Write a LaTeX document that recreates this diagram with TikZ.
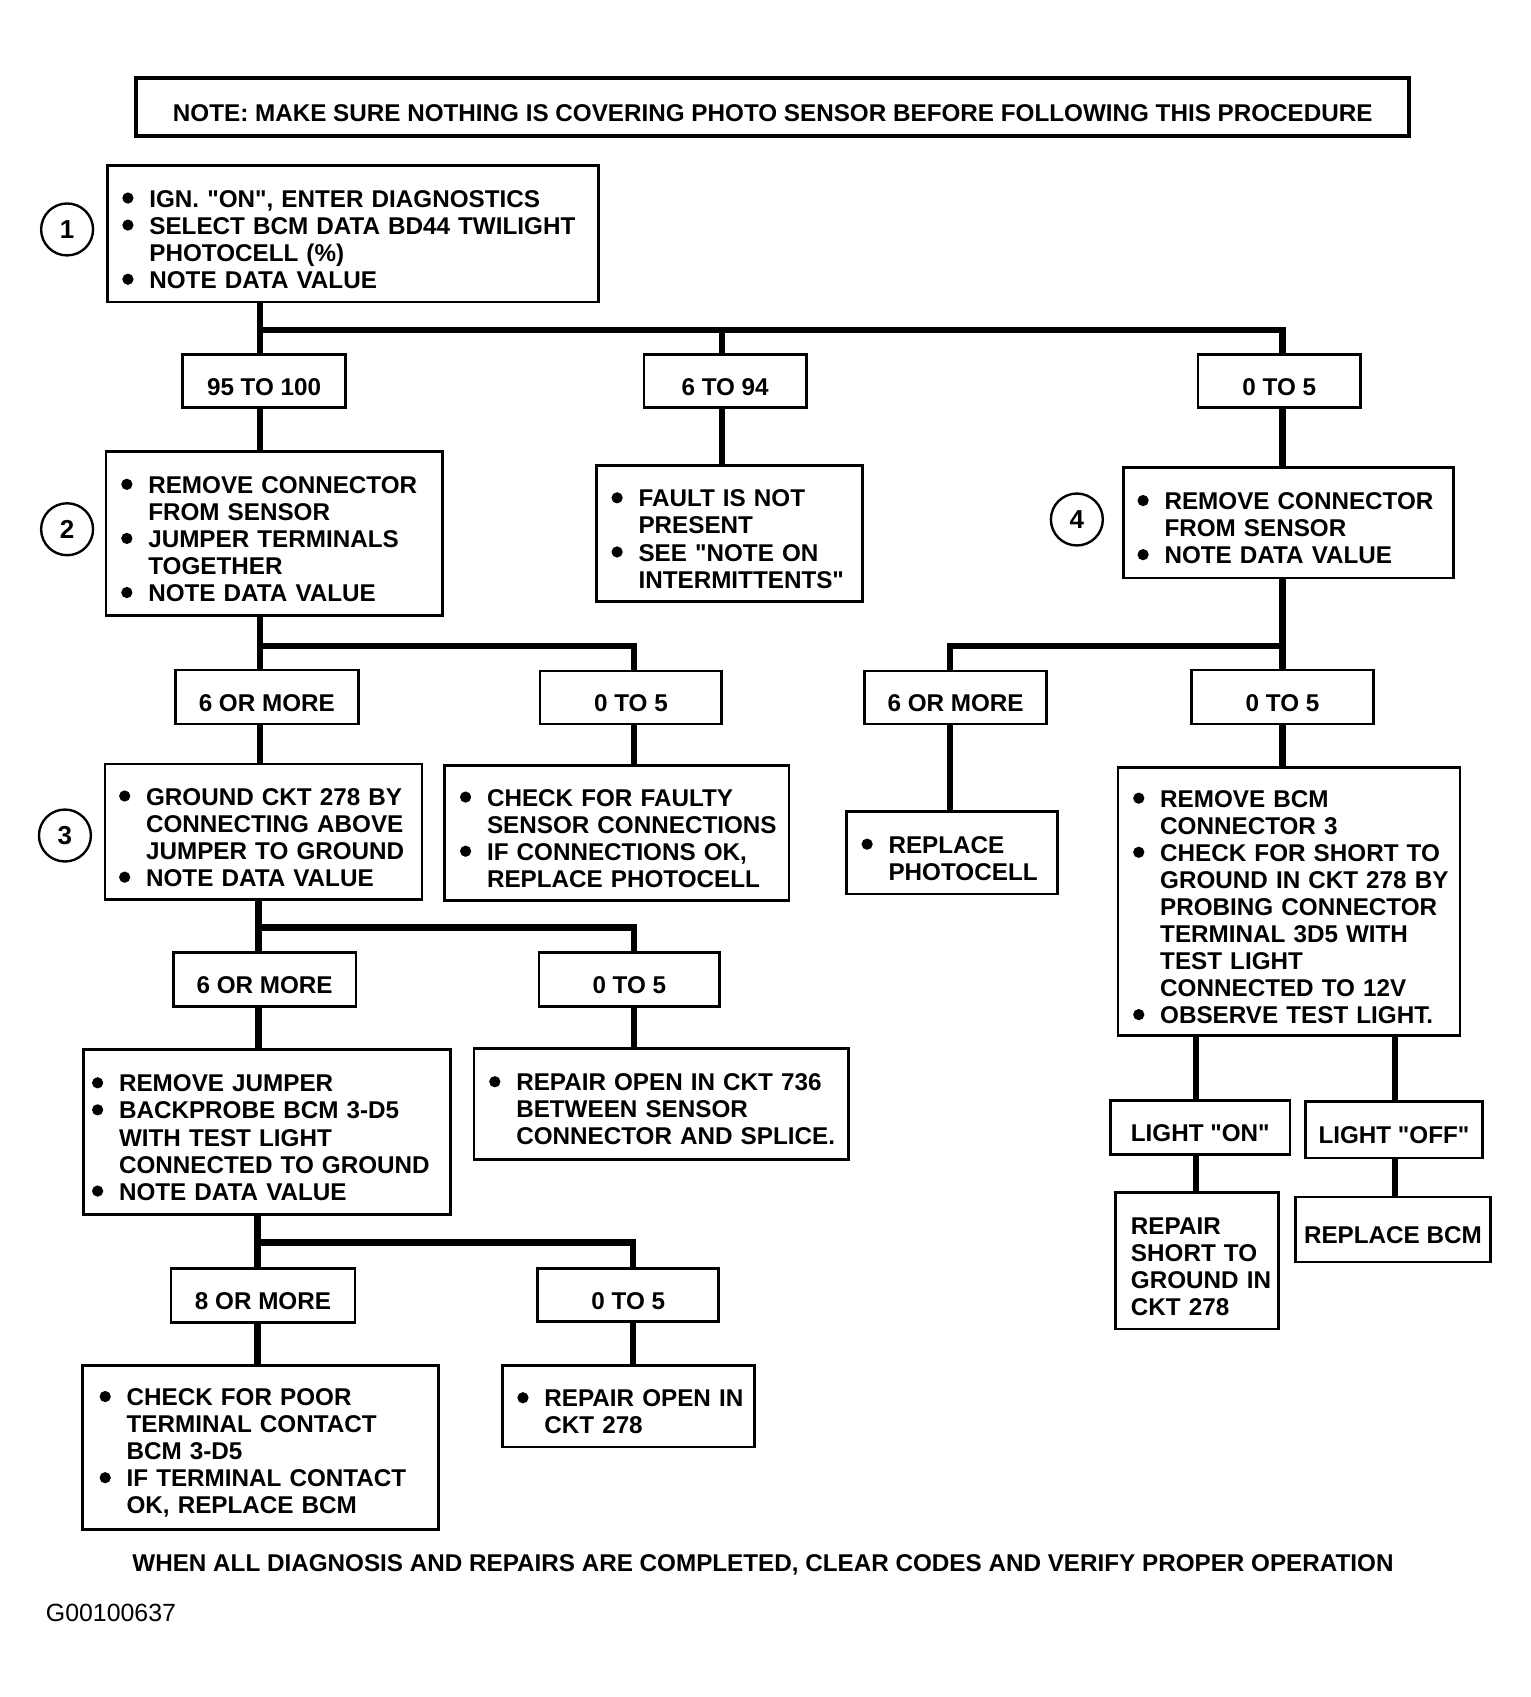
\documentclass[tikz,border=0pt]{standalone}
\usepackage{fontspec}
\setmainfont{Liberation Sans}
\newfontfamily\mf{Liberation Sans}
\newlength\lm
\newcommand\txt{\mf\fontsize{11.2}{12.5}\selectfont\bfseries\hyphenpenalty=10000\exhyphenpenalty=10000}
\newcommand\q{"}
\newcommand\bl{\hspace*{\lm}\makebox[12.5pt][l]{\tikz[baseline=0pt]\fill (2.6pt,4.2pt) circle[radius=2.6pt];}}
\newcommand\ct{\hspace*{\lm}\hspace*{12.5pt}}
\newcommand\pl{\hspace*{\lm}}
\begin{document}
\begin{tikzpicture}[x=0.5pt,y=-0.5pt,
  conn/.style={line width=3pt, line join=miter},
  bx/.style n args={3}{draw, line width=1.3pt, inner ysep=0pt, inner xsep=2pt, text width={(#1)*0.5pt-4pt}, minimum height=#2*0.5pt, align=left, font=\txt, execute at begin node={\pgfmathsetlength{\lm}{#3*0.5pt-2pt}\rule{0pt}{13pt}}},
  lab/.style 2 args={draw, line width=1.3pt, minimum width=#1*0.5pt, minimum height=#2*0.5pt, inner sep=0pt, text height=13pt, text depth=0pt, font=\txt},
  num/.style={draw, circle, line width=1.1pt, minimum size=24pt, inner sep=0pt, font=\mf\fontsize{12}{12}\selectfont\bfseries}
]
\fill[white] (0,0) rectangle (1414,1568);
\useasboundingbox (0,0) rectangle (1414,1568);

% note
\node[lab={1176}{54}, line width=1.8pt] (note) at (714,99) {NOTE: MAKE SURE NOTHING IS COVERING PHOTO SENSOR BEFORE FOLLOWING THIS PROCEDURE};

% step 1
\node[bx={454}{126}{14}] (b1) at (326,216) {\bl IGN. \q ON\q, ENTER DIAGNOSTICS\\\bl SELECT BCM DATA BD44 TWILIGHT\\\ct PHOTOCELL (\%)\\\bl NOTE DATA VALUE};
\node[num] (c1) at (62,212) {1};

\node[lab={150}{49}] (r1) at (244,352) {95 TO 100};
\node[lab={150}{49}] (r2) at (670,352) {6 TO 94};
\node[lab={150}{49}] (r3) at (1182,352) {0 TO 5};

% step 2 row
\node[bx={311}{152}{14}] (b2) at (253.5,493) {\bl REMOVE CONNECTOR\\\ct FROM SENSOR\\\bl JUMPER TERMINALS\\\ct TOGETHER\\\bl NOTE DATA VALUE};
\node[num] (c2) at (62,489) {2};
\node[bx={246}{126}{14}] (fa) at (674,493) {\bl FAULT IS NOT\\\ct PRESENT\\\bl SEE \q NOTE ON\\\ct INTERMITTENTS\q};
\node[bx={305}{102}{13}] (b4) at (1190.5,483) {\bl REMOVE CONNECTOR\\\ct FROM SENSOR\\\bl NOTE DATA VALUE};
\node[num] (c4) at (995,480) {4};

\node[lab={169}{50}] (r4) at (246.5,644) {6 OR MORE};
\node[lab={168}{49}] (r5) at (583,644.5) {0 TO 5};
\node[lab={168}{49}] (r6) at (883,644.5) {6 OR MORE};
\node[lab={168}{50}] (r7) at (1185,644) {0 TO 5};

% step 3 row
\node[bx={293}{125}{13}] (b3) at (243.5,768.5) {\bl GROUND CKT 278 BY\\\ct CONNECTING ABOVE\\\ct JUMPER TO GROUND\\\bl NOTE DATA VALUE};
\node[num] (c3) at (60,772) {3};
\node[bx={318}{125}{14}] (ck) at (570,769.5) {\bl CHECK FOR FAULTY\\\ct SENSOR CONNECTIONS\\\bl IF CONNECTIONS OK,\\\ct REPLACE PHOTOCELL};
\node[bx={195}{76}{14}] (rp) at (879.5,788) {\bl REPLACE\\\ct PHOTOCELL};
\node[bx={316}{248}{14}] (bcm) at (1191,833) {\bl REMOVE BCM\\\ct CONNECTOR 3\\\bl CHECK FOR SHORT TO\\\ct GROUND IN CKT 278 BY\\\ct PROBING CONNECTOR\\\ct TERMINAL 3D5 WITH\\\ct TEST LIGHT\\\ct CONNECTED TO 12V\\\bl OBSERVE TEST LIGHT.};

\node[lab={169}{50}] (r8) at (244.5,905) {6 OR MORE};
\node[lab={167}{50}] (r9) at (581.5,905) {0 TO 5};

\node[bx={339}{152}{8}] (rj) at (246.5,1046) {\bl REMOVE JUMPER\\\bl BACKPROBE BCM 3-D5\\\ct WITH TEST LIGHT\\\ct CONNECTED TO GROUND\\\bl NOTE DATA VALUE};
\node[bx={346}{102}{14}] (ro) at (611,1020) {\bl REPAIR OPEN IN CKT 736\\\ct BETWEEN SENSOR\\\ct CONNECTOR AND SPLICE.};

\node[lab={170}{50}] (r10) at (243,1197) {8 OR MORE};
\node[lab={167}{49}] (r11) at (580.5,1196.5) {0 TO 5};

\node[bx={329}{151}{16}] (cp) at (240.5,1337.5) {\bl CHECK FOR POOR\\\ct TERMINAL CONTACT\\\ct BCM 3-D5\\\bl IF TERMINAL CONTACT\\\ct OK, REPLACE BCM};
\node[bx={233}{75}{14}] (ro2) at (580.5,1299.5) {\bl REPAIR OPEN IN\\\ct CKT 278};

% right bottom
\node[lab={166}{50}] (lon) at (1109,1042) {LIGHT \q ON\q};
\node[lab={164}{52}] (loff) at (1288,1044) {LIGHT \q OFF\q};
\node[bx={150}{126}{14}] (rs) at (1106,1165) {\pl REPAIR\\\pl SHORT TO\\\pl GROUND IN\\\pl CKT 278};
\node[lab={180}{60}] (rb) at (1287,1136) {REPLACE BCM};

% footer
\node[font=\txt, anchor=center] (foot) at (705,1446) {WHEN ALL DIAGNOSIS AND REPAIRS ARE COMPLETED, CLEAR CODES AND VERIFY PROPER OPERATION};
\node[font=\mf\fontsize{11.5}{12}\selectfont, anchor=west, inner sep=0pt] (code) at (42,1490) {G00100637};

% connectors
\coordinate (s1a) at (240,305); \coordinate (s1b) at (667,305); \coordinate (s1c) at (1185,305);
\draw[conn] (b1.south -| s1a) -- (s1a |- r1.north);
\draw[conn] (s1a) -- (s1c) -- (s1c |- r3.north);
\draw[conn] (s1b) -- (s1b |- r2.north);
\draw[conn] (r1.south -| s1a) -- (s1a |- b2.north);
\draw[conn] (r2.south -| s1b) -- (s1b |- fa.north);
\draw[conn] (r3.south -| s1c) -- (s1c |- b4.north);

\coordinate (s2a) at (240,597); \coordinate (s2b) at (586,597);
\coordinate (s3a) at (878,597); \coordinate (s3b) at (1185,597);
\draw[conn] (b2.south -| s2a) -- (s2a |- r4.north);
\draw[conn] (s2a) -- (s2b) -- (s2b |- r5.north);
\draw[conn] (r4.south -| s2a) -- (s2a |- b3.north);
\draw[conn] (r5.south -| s2b) -- (s2b |- ck.north);
\draw[conn] (b4.south -| s3b) -- (s3b |- r7.north);
\draw[conn] (s3b) -- (s3a) -- (s3a |- r6.north);
\draw[conn] (r6.south -| s3a) -- (s3a |- rp.north);
\draw[conn] (r7.south -| s3b) -- (s3b |- bcm.north);

\coordinate (s4a) at (239,857); \coordinate (s4b) at (586,857);
\draw[conn] (b3.south -| s4a) -- (s4a |- r8.north);
\draw[conn] (s4a) -- (s4b) -- (s4b |- r9.north);
\draw[conn] (r8.south -| s4a) -- (s4a |- rj.north);
\draw[conn] (r9.south -| s4b) -- (s4b |- ro.north);

\coordinate (s5a) at (238,1148); \coordinate (s5b) at (585,1148);
\draw[conn] (rj.south -| s5a) -- (s5a |- r10.north);
\draw[conn] (s5a) -- (s5b) -- (s5b |- r11.north);
\draw[conn] (r10.south -| s5a) -- (s5a |- cp.north);
\draw[conn] (r11.south -| s5b) -- (s5b |- ro2.north);

\coordinate (t1) at (1105,1000); \coordinate (t2) at (1289,1000);
\draw[conn] (bcm.south -| t1) -- (t1 |- lon.north);
\draw[conn] (lon.south -| t1) -- (t1 |- rs.north);
\draw[conn] (bcm.south -| t2) -- (t2 |- loff.north);
\draw[conn] (loff.south -| t2) -- (t2 |- rb.north);
\end{tikzpicture}
\end{document}
